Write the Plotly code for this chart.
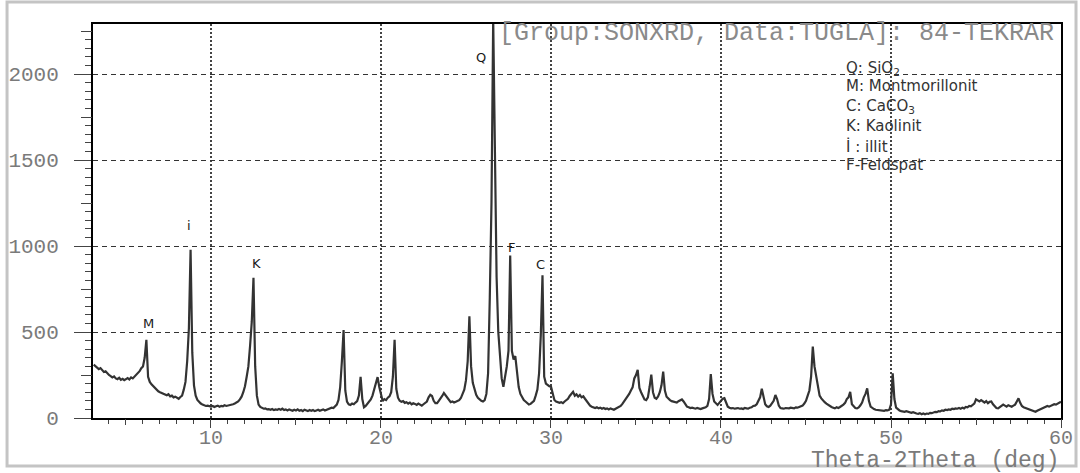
import numpy as np
import plotly.graph_objects as go

# XRD scan of the brick sample: counts per 0.1 deg step of 2-theta, starting at 3.1 deg
start_2theta = 3.1
step_2theta = 0.1
counts = [
    310, 302, 296, 284, 290, 276, 268, 272, 258,            # 3.1 - 3.9
    250, 244, 236, 242, 230, 226, 234, 222, 228, 220,       # 4
    226, 232, 224, 236, 230, 240, 246, 258, 272, 290,       # 5
    300, 350, 455, 240, 210, 196, 186, 172, 164, 155,       # 6
    150, 146, 140, 136, 132, 138, 126, 130, 120, 124,       # 7
    116, 112, 122, 130, 165, 210, 330, 520, 978, 380,       # 8
    190, 130, 105, 92, 84, 78, 74, 70, 72, 68,              # 9
    66, 70, 64, 68, 72, 66, 70, 68, 74, 70,                 # 10
    72, 76, 74, 80, 84, 88, 96, 108, 124, 150,              # 11
    185, 240, 300, 420, 560, 815, 300, 130, 78, 64,         # 12
    58, 54, 56, 50, 52, 48, 52, 46, 50, 48,                 # 13
    52, 48, 54, 46, 50, 44, 50, 48, 42, 48,                 # 14
    44, 50, 42, 46, 40, 48, 44, 40, 46, 42,                 # 15
    46, 40, 44, 48, 42, 46, 50, 44, 48, 54,                 # 16
    54, 60, 58, 66, 78, 105, 180, 330, 512, 160,            # 17
    95, 80, 76, 84, 80, 90, 98, 130, 240, 110,              # 18
    62, 70, 82, 96, 108, 130, 165, 200, 238, 180,           # 19
    130, 98, 110, 104, 118, 126, 150, 240, 455, 170,        # 20
    118, 100, 94, 98, 88, 92, 84, 90, 80, 86,               # 21
    82, 76, 84, 78, 72, 80, 86, 96, 120, 135,               # 22
    128, 100, 86, 86, 100, 112, 128, 145, 132, 118,         # 23
    100, 92, 96, 90, 94, 98, 104, 116, 138, 165,            # 24
    220, 330, 592, 300, 205, 160, 135, 118, 108, 100,       # 25
    96, 104, 140, 260, 700, 1250, 2320, 1500, 820, 500,     # 26
    330, 230, 182, 240, 300, 390, 945, 390, 340, 360,       # 27
    250, 180, 140, 118, 104, 96, 86, 78, 82, 90,            # 28
    100, 130, 165, 260, 480, 830, 240, 200, 192, 185,       # 29
    182, 140, 105, 96, 90, 88, 92, 86, 96, 102,             # 30
    112, 128, 142, 152, 130, 138, 124, 134, 120, 126,       # 31
    112, 96, 80, 72, 66, 62, 58, 62, 56, 60,                # 32
    54, 58, 52, 56, 50, 56, 52, 48, 54, 58,                 # 33
    62, 70, 82, 96, 112, 124, 140, 160, 178, 230,           # 34
    250, 280, 175, 150, 125, 108, 104, 120, 180, 252,       # 35
    150, 118, 112, 125, 150, 190, 270, 160, 124, 112,       # 36
    104, 98, 95, 92, 90, 98, 104, 108, 96, 80,              # 37
    66, 62, 58, 60, 56, 54, 58, 56, 52, 56,                 # 38
    58, 62, 70, 110, 255, 140, 96, 84, 76, 88,              # 39
    100, 112, 115, 90, 66, 60, 56, 58, 54, 56,              # 40
    58, 54, 56, 52, 58, 56, 54, 60, 62, 70,                 # 41
    72, 80, 96, 120, 170, 120, 80, 68, 64, 72,              # 42
    84, 100, 134, 110, 72, 58, 56, 54, 58, 56,              # 43
    56, 60, 58, 56, 62, 60, 64, 66, 72, 84,                 # 44
    100, 130, 160, 240, 415, 300, 240, 170, 130, 114,       # 45
    100, 92, 84, 76, 70, 64, 60, 56, 62, 58,                # 46
    64, 70, 78, 88, 110, 120, 152, 80, 66, 58,              # 47
    56, 62, 74, 90, 120, 140, 172, 100, 66, 56,             # 48
    52, 48, 46, 44, 42, 44, 42, 46, 44, 48,                 # 49
    80, 260, 110, 60, 50, 44, 40, 38, 36, 40,               # 50
    36, 32, 30, 34, 28, 26, 24, 28, 22, 26,                 # 51
    22, 26, 24, 30, 28, 32, 36, 34, 40, 38,                 # 52
    44, 42, 48, 46, 50, 48, 54, 52, 56, 54,                 # 53
    58, 54, 60, 56, 64, 62, 70, 68, 76, 84,                 # 54
    108, 100, 96, 104, 95, 90, 98, 86, 94, 96,              # 55
    80, 66, 58, 56, 62, 70, 78, 72, 66, 74,                 # 56
    70, 66, 72, 78, 96, 114, 88, 70, 62, 58,                # 57
    52, 48, 44, 40, 38, 36, 42, 46, 50, 56,                 # 58
    60, 64, 70, 66, 72, 76, 80, 78, 84, 88,                 # 59
    95,                                                     # 60
]

# Phase letters placed over their reflections (2-theta, counts)
peak_labels = ["M", "i", "K", "Q", "F", "C"]
peak_label_x = [6.35, 8.71, 12.65, 25.88, 27.65, 29.41]
peak_label_y = [552, 1122, 901, 2099, 994, 895]

# Phase key
key_lines = ["Q: SiO<sub>2</sub>", "M: Montmorillonit", "C: CaCO<sub>3</sub>",
             "K: Kaolinit", "İ : illit", "F-Feldspat"]
key_x = 47.24
key_y = [2035, 1930, 1814, 1698, 1581, 1471]

x_range = [3.06, 60]
y_range = [0, 2291]
x_labels = [10, 20, 30, 40, 50, 60]
x_mid_ticks = [5, 15, 25, 35, 45, 55]
y_labels = [0, 500, 1000, 1500, 2000]
y_mid_ticks = [250, 750, 1250, 1750, 2250]

two_theta = np.round(start_2theta + step_2theta * np.arange(len(counts)), 2)

mono = "Liberation Mono, Courier New, monospace"
sans = "DejaVu Sans, Arial, sans-serif"

fig = go.Figure()
fig.add_trace(go.Scatter(
    x=two_theta, y=counts, mode="lines",
    line=dict(color="#333333", width=2.2),
    showlegend=False, hoverinfo="x+y",
))
# carriers for the extra tick axes
fig.add_trace(go.Scatter(x=[None], y=[None], xaxis="x2", yaxis="y2",
                         mode="lines", showlegend=False, hoverinfo="skip"))
fig.add_trace(go.Scatter(x=[None], y=[None], xaxis="x3", yaxis="y2",
                         mode="lines", showlegend=False, hoverinfo="skip"))

tick_axis = dict(showticklabels=False, showgrid=False, showline=False,
                 zeroline=False, tickcolor="#444", ticks="outside",
                 tickmode="array", automargin=False)

fig.update_layout(
    width=1080, height=473,
    margin=dict(l=93, r=19, t=24, b=55),
    paper_bgcolor="white", plot_bgcolor="white",
    xaxis=dict(
        range=x_range, tickmode="array", tickvals=x_labels,
        ticks="", automargin=False,
        showline=True, linecolor="black", linewidth=2, mirror=True,
        showgrid=True, gridcolor="#444", gridwidth=2, griddash="2px,2px",
        zeroline=False,
        tickfont=dict(family=mono, size=20, color="#7a7a7a"),
        minor=dict(dtick=1, tick0=0, ticks="outside", ticklen=4,
                   tickcolor="#444", showgrid=False),
    ),
    yaxis=dict(
        range=y_range, tickmode="array", tickvals=y_labels,
        ticks="outside", ticklen=17, tickwidth=1, tickcolor="#444",
        automargin=False,
        showline=True, linecolor="black", linewidth=2, mirror=True,
        showgrid=True, gridcolor="#333", gridwidth=1, griddash="5px,4px",
        zeroline=False,
        tickfont=dict(family=mono, size=21, color="#7a7a7a"),
        ticklabelstandoff=11,
        minor=dict(dtick=50, tick0=0, ticks="outside", ticklen=6,
                   tickcolor="#444", showgrid=False),
    ),
    xaxis2=dict(overlaying="x", anchor="y", side="bottom", range=x_range,
                tickvals=x_mid_ticks, ticklen=6, **tick_axis),
    xaxis3=dict(overlaying="x", anchor="y", side="bottom", range=x_range,
                tickvals=x_labels, ticklen=9, **tick_axis),
    yaxis2=dict(overlaying="y", anchor="x", side="left", range=y_range,
                tickvals=y_mid_ticks, ticklen=11, **tick_axis),
)

annotations = []
for t, x, y in zip(peak_labels, peak_label_x, peak_label_y):
    annotations.append(dict(x=x, y=y, xref="x", yref="y", text=t, showarrow=False,
                            font=dict(family=sans, size=13, color="#1a1a1a"),
                            xanchor="center", yanchor="middle"))
for t, y in zip(key_lines, key_y):
    annotations.append(dict(x=key_x, y=y, xref="x", yref="y", text=t, showarrow=False,
                            font=dict(family=sans, size=15, color="#333"),
                            xanchor="left", yanchor="middle"))
annotations.append(dict(x=26.85, y=2238, xref="x", yref="y",
                        text="[Group:SONXRD, Data:TUGLA]: 84-TEKRAR", showarrow=False,
                        font=dict(family=mono, size=25, color="#8a8a8a"),
                        xanchor="left", yanchor="middle"))
annotations.append(dict(x=1.0, y=-0.11, xref="paper", yref="paper",
                        text="Theta-2Theta (deg)", showarrow=False,
                        font=dict(family=mono, size=23, color="#7a7a7a"),
                        xanchor="right", yanchor="middle"))
fig.update_layout(annotations=annotations)

# light grey frame around the whole picture
fig.add_shape(type="rect", xref="paper", yref="paper",
              x0=-0.0888, x1=1.0155, y0=-0.1218, y1=1.0558,
              line=dict(color="#c4c4c4", width=3), fillcolor="rgba(0,0,0,0)",
              layer="above")

fig.write_html("out.html")
